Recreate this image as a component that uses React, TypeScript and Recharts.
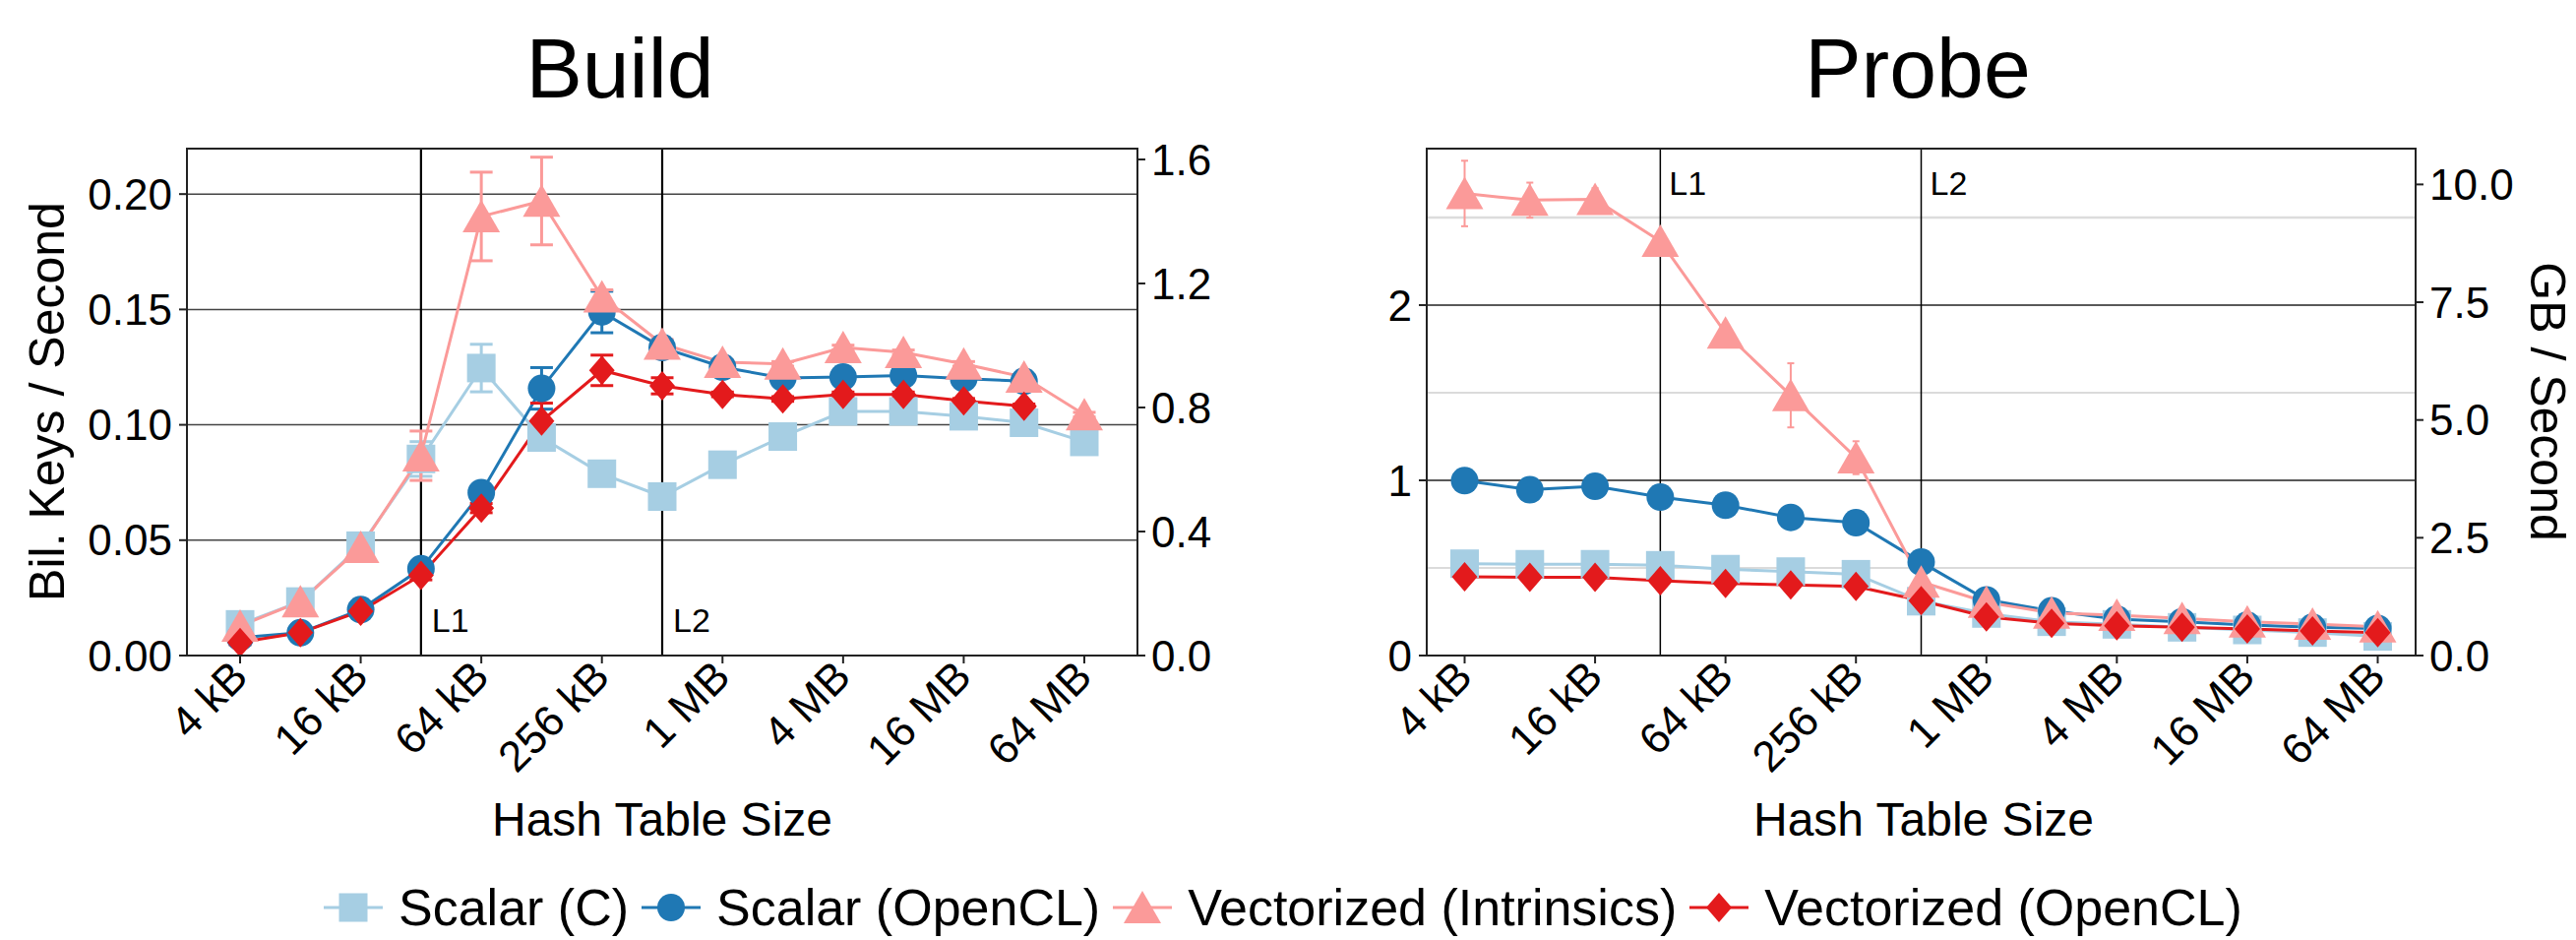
import React from "react";
import { LineChart, Line, XAxis, YAxis, CartesianGrid, ReferenceLine, ErrorBar } from "recharts";

// hash table sizes on the x axis
const sizes = ["4 kB", "8 kB", "16 kB", "32 kB", "64 kB", "128 kB", "256 kB", "512 kB", "1 MB", "2 MB", "4 MB", "8 MB", "16 MB", "32 MB", "64 MB"];

// Build: billion keys / second
const buildScalarC = [0.0135, 0.0234, 0.0476, 0.0852, 0.1246, 0.0945, 0.0788, 0.0689, 0.0827, 0.0949, 0.1058, 0.1058, 0.1037, 0.1009, 0.0926];
const buildScalarCl = [0.0078, 0.0099, 0.0199, 0.0376, 0.0706, 0.1158, 0.1489, 0.1335, 0.125, 0.1203, 0.1207, 0.1214, 0.12, 0.1189, null];
const buildVecIntr = [0.0128, 0.0234, 0.0469, 0.0866, 0.1903, 0.197, 0.1555, 0.135, 0.1271, 0.1264, 0.1335, 0.1314, 0.1264, 0.1207, 0.1044];
const buildVecCl = [0.0057, 0.0099, 0.0192, 0.0348, 0.0639, 0.1016, 0.1236, 0.1169, 0.1132, 0.1112, 0.1132, 0.1132, 0.1104, 0.108, null];

const buildScalarCErr = [0.002, 0.002, 0.003, 0.0075, 0.0103, 0.003, 0, 0, 0, 0, 0, 0, 0, 0, 0];
const buildScalarClErr = [0.001, 0.001, 0.001, 0.002, 0.001, 0.009, 0.009, 0.003, 0.002, 0.001, 0.001, 0.001, 0.001, 0.001, 0];
const buildVecIntrErr = [0.002, 0.002, 0.006, 0.0107, 0.0192, 0.019, 0.003, 0.002, 0.001, 0.001, 0.001, 0.001, 0.001, 0.001, 0.001];
const buildVecClErr = [0.001, 0.001, 0.001, 0.002, 0.002, 0.0078, 0.0066, 0.0035, 0.001, 0.001, 0.001, 0.001, 0.001, 0.001, 0];

// Probe: billion keys / second
const probeScalarC = [0.524, 0.521, 0.521, 0.515, 0.493, 0.479, 0.464, 0.31, 0.24, 0.193, 0.178, 0.161, 0.146, 0.131, 0.109];
const probeScalarCl = [0.998, 0.946, 0.966, 0.904, 0.858, 0.788, 0.758, 0.533, 0.318, 0.255, 0.208, 0.193, 0.174, 0.161, 0.155];
const probeVecIntr = [2.637, 2.599, 2.603, 2.365, 1.841, 1.485, 1.129, 0.42, 0.305, 0.243, 0.23, 0.212, 0.193, 0.18, 0.165];
const probeVecCl = [0.449, 0.446, 0.446, 0.427, 0.412, 0.403, 0.395, 0.313, 0.221, 0.184, 0.17, 0.161, 0.152, 0.14, 0.131];

const probeScalarCErr = [0.01, 0.01, 0.01, 0, 0, 0, 0, 0.03, 0.012, 0.012, 0.01, 0.01, 0.01, 0.01, 0.01];
const probeScalarClErr = [0, 0, 0, 0, 0, 0, 0, 0.03, 0.015, 0.012, 0.01, 0.01, 0.01, 0.01, 0.01];
const probeVecIntrErr = [0.187, 0.1, 0.065, 0, 0, 0.183, 0.094, 0.03, 0.02, 0.02, 0.01, 0.01, 0.01, 0.01, 0.01];
const probeVecClErr = [0, 0, 0, 0, 0, 0, 0, 0.03, 0.01, 0.01, 0.01, 0.01, 0.01, 0.01, 0.01];

const buildLeftTicks = [0, 0.05, 0.1, 0.15, 0.2];
const buildRightTicks = [0, 0.4, 0.8, 1.2, 1.6];
const probeLeftTicks = [0, 1, 2];
const probeMinorTicks = [0.5, 1.5, 2.5];
const probeRightTicks = [0, 2.5, 5, 7.5, 10];

const series = [
  { key: "c", name: "Scalar (C)", color: "#a6cee3", shape: "square" },
  { key: "cl", name: "Scalar (OpenCL)", color: "#1f78b4", shape: "circle" },
  { key: "intr", name: "Vectorized (Intrinsics)", color: "#fb9a99", shape: "triangle" },
  { key: "vcl", name: "Vectorized (OpenCL)", color: "#e31a1c", shape: "diamond" },
];

const buildData = sizes.map((size, i) => ({
  size,
  c: buildScalarC[i], cl: buildScalarCl[i], intr: buildVecIntr[i], vcl: buildVecCl[i],
  cErr: buildScalarCErr[i], clErr: buildScalarClErr[i], intrErr: buildVecIntrErr[i], vclErr: buildVecClErr[i],
}));

const probeData = sizes.map((size, i) => ({
  size,
  c: probeScalarC[i], cl: probeScalarCl[i], intr: probeVecIntr[i], vcl: probeVecCl[i],
  cErr: probeScalarCErr[i], clErr: probeScalarClErr[i], intrErr: probeVecIntrErr[i], vclErr: probeVecClErr[i],
}));

const FONT = "'Liberation Sans', Arial, Helvetica, sans-serif";

function Marker({ shape, cx, cy, color }: { shape: string; cx: number; cy: number; color: string }) {
  if (shape === "square") return <rect x={cx - 14.5} y={cy - 14.5} width={29} height={29} fill={color} />;
  if (shape === "circle") return <circle cx={cx} cy={cy} r={14} fill={color} />;
  if (shape === "triangle")
    return <polygon points={`${cx},${cy - 17} ${cx - 19},${cy + 16} ${cx + 19},${cy + 16}`} fill={color} />;
  return <polygon points={`${cx},${cy - 15} ${cx + 13},${cy} ${cx},${cy + 15} ${cx - 13},${cy}`} fill={color} />;
}

const makeDot = (shape: string, color: string) => (p: any) => {
  if (p.cx == null || p.cy == null || p.value == null) return <g key={p.index} />;
  return (
    <g key={p.index}>
      <Marker shape={shape} cx={p.cx} cy={p.cy} color={color} />
    </g>
  );
};

function SizeTick(props: any) {
  const { x, y, payload } = props;
  return (
    <g transform={`translate(${x + 10},${y + 14}) rotate(-45)`}>
      <text x={0} y={0} textAnchor="end" fontSize={44} fill="#000" fontFamily={FONT}>
        {payload.value}
      </text>
    </g>
  );
}

const cacheLabel = (text: string, top: boolean, dx: number) => (props: any) => {
  const vb = props.viewBox;
  const y = top ? vb.y + 47 : vb.y + vb.height - 24;
  return (
    <text x={vb.x + dx} y={y} fontSize={34} fill="#000" fontFamily={FONT}>
      {text}
    </text>
  );
};

const tickStyle = { fontSize: 44, fill: "#000", fontFamily: FONT };
const tickLineStyle = { stroke: "#222", strokeWidth: 2 };

interface PanelProps {
  data: any[];
  width: number;
  leftW: number;
  rightW: number;
  pad: number;
  leftDomain: number[];
  leftTicks: number[];
  leftFmt: (v: number) => string;
  rightDomain: number[];
  rightTicks: number[];
  rightFmt: (v: number) => string;
  minorTicks: number[];
  gridColor: string;
  cacheWidth: number;
  cacheTop: boolean;
  cacheDx: number;
  capW: number;
  errW: number;
}

function Panel(p: PanelProps) {
  return (
    <LineChart width={p.width} height={800} data={p.data} margin={{ top: 151, right: 0, bottom: 0, left: 0 }}>
      <CartesianGrid yAxisId="left" vertical={false} stroke={p.gridColor} strokeWidth={1.5} />
      {p.minorTicks.map((t) => (
        <ReferenceLine key={t} yAxisId="left" y={t} stroke={t === 2.5 ? "#dcdcdc" : "#cfcfcf"} strokeWidth={t === 2.5 ? 2.5 : 1.5} />
      ))}
      <XAxis
        dataKey="size"
        interval={1}
        padding={{ left: p.pad, right: p.pad }}
        height={134}
        axisLine={false}
        tickLine={tickLineStyle}
        tickSize={8}
        tickMargin={2}
        tick={<SizeTick />}
      />
      <YAxis
        yAxisId="left"
        width={p.leftW}
        domain={p.leftDomain}
        ticks={p.leftTicks}
        allowDataOverflow
        axisLine={false}
        tickLine={tickLineStyle}
        tickSize={8}
        tickMargin={7}
        tick={tickStyle}
        tickFormatter={p.leftFmt}
      />
      <YAxis
        yAxisId="right"
        orientation="right"
        width={p.rightW}
        domain={p.rightDomain}
        ticks={p.rightTicks}
        allowDataOverflow
        axisLine={false}
        tickLine={tickLineStyle}
        tickSize={8}
        tickMargin={6}
        tick={tickStyle}
        tickFormatter={p.rightFmt}
      />
      <ReferenceLine yAxisId="left" x="32 kB" stroke="#000" strokeWidth={p.cacheWidth} label={cacheLabel("L1", p.cacheTop, p.cacheDx)} />
      <ReferenceLine yAxisId="left" x="512 kB" stroke="#000" strokeWidth={p.cacheWidth} label={cacheLabel("L2", p.cacheTop, p.cacheDx)} />
      {series.map((s) => (
        <Line
          key={s.key}
          yAxisId="left"
          dataKey={s.key}
          name={s.name}
          stroke={s.color}
          strokeWidth={3}
          dot={makeDot(s.shape, s.color)}
          activeDot={false}
          isAnimationActive={false}
        >
          <ErrorBar dataKey={s.key + "Err"} direction="y" width={p.capW} stroke={s.color} strokeWidth={p.errW} />
        </Line>
      ))}
    </LineChart>
  );
}

function LegendMarker({ shape, color }: { shape: string; color: string }) {
  return (
    <svg width={60} height={52} style={{ display: "block" }}>
      <line x1={0} y1={26} x2={60} y2={26} stroke={color} strokeWidth={3} />
      <Marker shape={shape} cx={30} cy={26} color={color} />
    </svg>
  );
}

const abs = (left: number, top: number, extra: React.CSSProperties = {}): React.CSSProperties => ({
  position: "absolute",
  left,
  top,
  ...extra,
});

export default function App() {
  return (
    <div style={{ position: "relative", width: 2618, height: 955, background: "#fff", fontFamily: FONT, color: "#000", overflow: "hidden" }}>
      <style>{"body{margin:0}"}</style>

      <div style={abs(0, 0)}>
        <Panel
          data={buildData}
          width={1300}
          leftW={190}
          rightW={144}
          pad={54}
          leftDomain={[0, 0.2197]}
          leftTicks={buildLeftTicks}
          leftFmt={(v) => v.toFixed(2)}
          rightDomain={[0, 1.635]}
          rightTicks={buildRightTicks}
          rightFmt={(v) => v.toFixed(1)}
          minorTicks={[]}
          gridColor="#444"
          cacheWidth={2.2}
          cacheTop={false}
          cacheDx={11}
          capW={11.5}
          errW={3}
        />
      </div>
      <div style={abs(1300, 0)}>
        <Panel
          data={probeData}
          width={1318}
          leftW={150}
          rightW={163}
          pad={38.5}
          leftDomain={[0, 2.893]}
          leftTicks={probeLeftTicks}
          leftFmt={(v) => String(v)}
          rightDomain={[0, 10.76]}
          rightTicks={probeRightTicks}
          rightFmt={(v) => v.toFixed(1)}
          minorTicks={probeMinorTicks}
          gridColor="#222"
          cacheWidth={1.5}
          cacheTop={true}
          cacheDx={9}
          capW={3.5}
          errW={2}
        />
      </div>

      {/* plot frames */}
      <div style={abs(189, 150, { width: 968, height: 517, border: "2.5px solid #222", boxSizing: "border-box", pointerEvents: "none" })} />
      <div style={abs(1449, 150, { width: 1007, height: 517, border: "2.5px solid #222", boxSizing: "border-box", pointerEvents: "none" })} />

      {/* titles */}
      <div style={abs(430, 26, { width: 400, textAlign: "center", fontSize: 86, lineHeight: "86px" })}>Build</div>
      <div style={abs(1749, 26, { width: 400, textAlign: "center", fontSize: 86, lineHeight: "86px" })}>Probe</div>

      {/* axis titles */}
      <div style={abs(473, 809, { width: 400, textAlign: "center", fontSize: 48, lineHeight: "48px" })}>Hash Table Size</div>
      <div style={abs(1755, 809, { width: 400, textAlign: "center", fontSize: 48, lineHeight: "48px" })}>Hash Table Size</div>
      <div style={abs(48 - 250, 408 - 25, { width: 500, height: 50, textAlign: "center", fontSize: 50, lineHeight: "50px", transform: "rotate(-90deg)" })}>
        Bil. Keys / Second
      </div>
      <div style={abs(2589 - 250, 408 - 25, { width: 500, height: 50, textAlign: "center", fontSize: 50, lineHeight: "50px", transform: "rotate(90deg)" })}>
        GB / Second
      </div>

      {/* legend */}
      <div style={abs(329, 896, { display: "flex", alignItems: "center", fontSize: 52, lineHeight: "52px", whiteSpace: "nowrap" })}>
        {series.map((s) => (
          <div key={s.key} style={{ display: "flex", alignItems: "center", marginRight: 13 }}>
            <LegendMarker shape={s.shape} color={s.color} />
            <span style={{ marginLeft: 16 }}>{s.name}</span>
          </div>
        ))}
      </div>
    </div>
  );
}
